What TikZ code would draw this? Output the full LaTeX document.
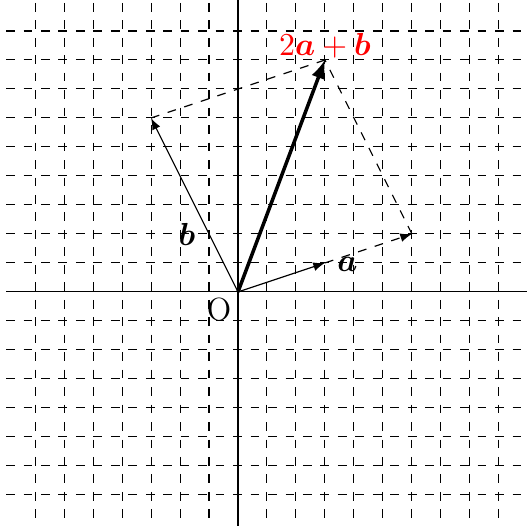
\documentclass[tikz,border=0pt]{standalone}
\usepackage{amsmath,bm}
\begin{document}
\begin{tikzpicture}[x=.35cm,y=.35cm,>=latex,font=\fontsize{11}{13}\selectfont,
  gridline/.style={dashed,line width=.35pt},
  sumvec/.style={->,very thick}]
  \useasboundingbox (-8.21,-8.07) rectangle (9.97,10.07);
  % dashed unit grid first, the axes go over it
  \foreach \k in {-7,...,9} {
    \draw[gridline] (\k,9.97) -- (\k,-8.07);
    \draw[gridline] (-8,\k) -- (10,\k);
  }
  \draw (-8,0) -- (10,0);
  \draw (0,-8.07) -- (0,10.07);
  \coordinate (O) at (0,0);
  \coordinate (A) at (3,1);
  \coordinate (B) at (-3,6);
  \coordinate (AA) at (6,2);
  \coordinate (S) at (3,8);
  % parallelogram spanned by 2a and b
  \draw[->,dashed] (A) -- (AA);
  \draw[dashed] (AA) -- (S);
  \draw[dashed] (B) -- (S);
  \draw[->] (O) -- (A);
  \draw[->] (O) -- (B);
  \draw[sumvec] (O) -- (S);
  \node (lo) at (-0.65,-0.6) {O};
  \node (la) at (3.78,0.95) {$\bm{a}$};
  \node (lb) at (-1.76,1.97) {$\bm{b}$};
  \node[red] (ls) at (3,8.5) {$2\bm{a}+\bm{b}$};
\end{tikzpicture}
\end{document}
